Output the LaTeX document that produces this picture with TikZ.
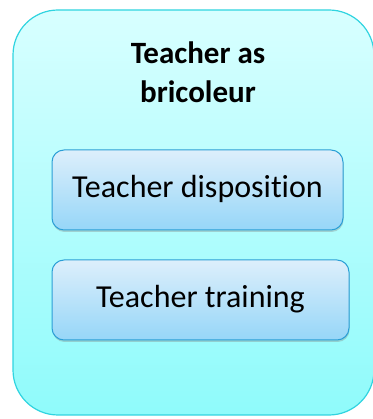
\documentclass[tikz,border=0pt]{standalone}
\usepackage{fontspec}
\setmainfont[Ligatures=NoCommon]{Carlito}
\usetikzlibrary{shadows}
\definecolor{outtop}{HTML}{D8FFFF}
\definecolor{outbot}{HTML}{8FFBFB}
\definecolor{outline}{HTML}{30D4E0}
\definecolor{intop}{HTML}{DDEFFB}
\definecolor{inbot}{HTML}{96D6F8}
\definecolor{inline}{HTML}{2B9FD6}
\tikzset{
  outerbox/.style={draw=outline, line width=1.2pt, rounded corners=45pt, top color=outtop, bottom color=outbot},
  innerbox/.style={draw=inline, line width=1pt, rounded corners=12pt, top color=intop, bottom color=inbot,
    drop shadow={shadow xshift=0.5pt, shadow yshift=-2pt, opacity=0.35}},
}
\begin{document}
\begin{tikzpicture}[x=1pt,y=1pt]
\useasboundingbox (0,0) rectangle (372,419);
\draw[outerbox] (13,4) rectangle (374,409);
\node[font=\fontsize{31}{39}\selectfont\bfseries, align=center] (title) at (198,347) {Teacher as\\bricoleur};
\draw[innerbox] (52,189) rectangle (343,269);
\node[font=\fontsize{32}{36}\selectfont] (disp) at (197.5,230) {Teacher disposition};
\draw[innerbox] (52,79) rectangle (349,159);
\node[font=\fontsize{32}{36}\selectfont] (train) at (200.5,120) {Teacher training};
\end{tikzpicture}
\end{document}
